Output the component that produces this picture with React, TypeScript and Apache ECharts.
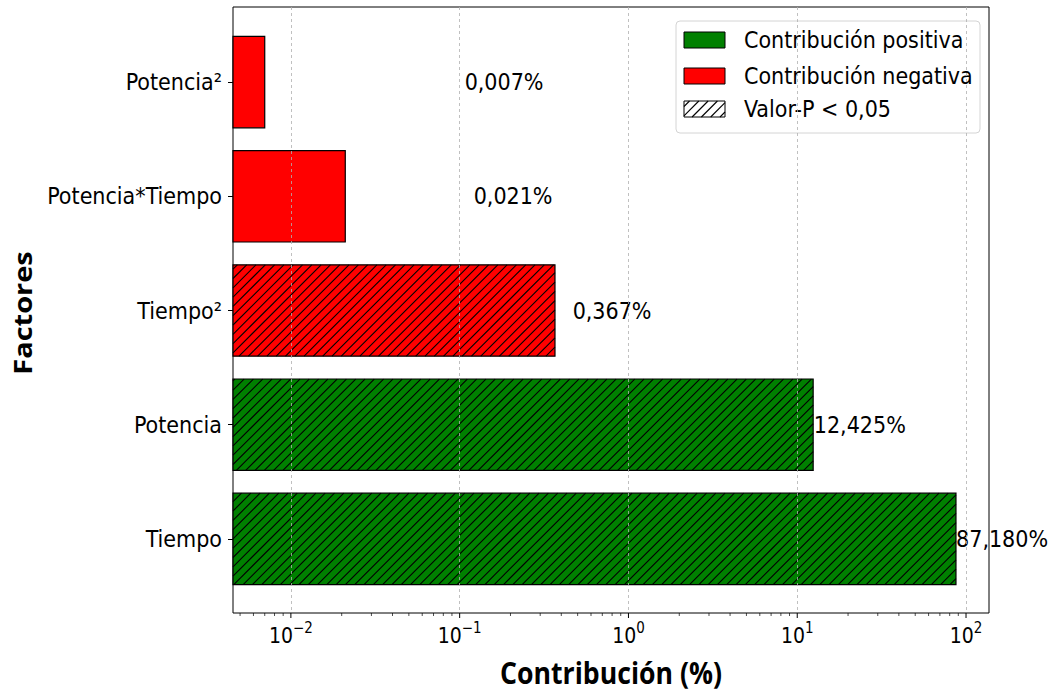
import React, { useEffect, useRef } from 'react';
import * as echarts from 'echarts';

// Factors ordered bottom-to-top on the category axis
const factors = ['Tiempo', 'Potencia', 'Tiempo²', 'Potencia*Tiempo', 'Potencia²'];
// Percentage contribution of each factor
const contributions = [87.18, 12.425, 0.367, 0.021, 0.007];
// Sign of each effect
const effectSign = ['positiva', 'positiva', 'negativa', 'negativa', 'negativa'];
// P-value below 0.05
const significant = [true, true, true, false, false];

// Logarithmic x axis range and ticks
const X_MIN = 0.00454;
const X_MAX = 136.8;
const majorTicks = [0.01, 0.1, 1, 10, 100];
const minorTicks = [
  0.005, 0.006, 0.007, 0.008, 0.009,
  0.02, 0.03, 0.04, 0.05, 0.06, 0.07, 0.08, 0.09,
  0.2, 0.3, 0.4, 0.5, 0.6, 0.7, 0.8, 0.9,
  2, 3, 4, 5, 6, 7, 8, 9,
  20, 30, 40, 50, 60, 70, 80, 90,
];
// value labels sit this far (in data units) right of the bar end
const LABEL_OFFSET = 0.1;

const legendLabels = ['Contribución positiva', 'Contribución negativa', 'Valor-P < 0,05'];

const GREEN = '#008000';
const RED = '#ff0000';
const FONT = "'DejaVu Sans Condensed', 'DejaVu Sans', sans-serif";
const TITLE_FONT = "'Open Sans', 'DejaVu Sans', sans-serif";
const HATCH_STEP = 9.3;

function hatchLines(x0: number, y0: number, x1: number, y1: number, step: number) {
  const lines: any[] = [];
  const start = Math.ceil((x0 + y0) / step) * step;
  for (let c = start; c <= x1 + y1; c += step) {
    const xa = Math.max(x0, c - y1);
    const xb = Math.min(x1, c - y0);
    if (xb > xa) {
      lines.push({
        type: 'line',
        shape: { x1: xa, y1: c - xa, x2: xb, y2: c - xb },
        style: { stroke: '#000', lineWidth: 1.1 },
        silent: true,
      });
    }
  }
  return lines;
}

function formatPct(v: number) {
  return v.toFixed(3).replace('.', ',') + '%';
}

function buildLegend() {
  const box = { x: 676, y: 21, w: 304, h: 112 };
  const handleX = 684;
  const handleW = 41;
  const handleH = 16;
  const rowsY = [32, 68, 101];
  const fills = [GREEN, RED, '#ffffff'];
  const children: any[] = [
    {
      type: 'rect',
      shape: { x: box.x, y: box.y, width: box.w, height: box.h, r: 4 },
      style: { fill: 'rgba(255,255,255,0.8)', stroke: '#d4d4d4', lineWidth: 1 },
    },
  ];
  legendLabels.forEach((label, i) => {
    const y = rowsY[i];
    children.push({
      type: 'rect',
      shape: { x: handleX, y, width: handleW, height: handleH },
      style: { fill: fills[i], stroke: 'none' },
    });
    if (i === 2) {
      children.push(...hatchLines(handleX, y, handleX + handleW, y + handleH, HATCH_STEP));
    }
    children.push({
      type: 'rect',
      shape: { x: handleX, y, width: handleW, height: handleH },
      style: { fill: 'none', stroke: '#000', lineWidth: 1 },
    });
    children.push({
      type: 'text',
      x: 744,
      y: y + handleH / 2,
      style: {
        text: label,
        fontSize: 23,
        fontFamily: FONT,
        fill: '#000',
        align: 'left',
        verticalAlign: 'middle',
      },
    });
  });
  return { type: 'group', z: 20, children };
}

export default function App() {
  const ref = useRef<HTMLDivElement>(null);

  useEffect(() => {
    if (!ref.current) return;
    const chart = echarts.init(ref.current, undefined, { renderer: 'svg' });

    const option: any = {
      animation: false,
      backgroundColor: '#ffffff',
      grid: [
        {
          left: 233, top: 7, width: 756, height: 606,
          show: true, borderColor: '#000', borderWidth: 1, backgroundColor: 'transparent',
        },
        { left: 233, top: 25, width: 756, height: 571 },
      ],
      xAxis: [
        {
          type: 'log', logBase: 10, gridIndex: 0, min: X_MIN, max: X_MAX, z: 5,
          axisLine: { show: false },
          axisTick: { show: false },
          splitLine: {
            show: true, showMinLine: false, showMaxLine: false,
            lineStyle: { color: '#b0b0b0', type: [3, 3], width: 0.8 },
          },
          axisLabel: {
            showMinLabel: false, showMaxLabel: false, margin: 7,
            formatter: (v: number) => {
              const e = Math.round(Math.log10(v));
              return `{b|10}{s|${e < 0 ? '−' + -e : e}}`;
            },
            rich: {
              b: { fontSize: 21, fontFamily: FONT, color: '#000' },
              s: { fontSize: 15, fontFamily: FONT, color: '#000', padding: [0, 0, 16, 0] },
            },
          },
        },
        { type: 'log', logBase: 10, gridIndex: 1, min: X_MIN, max: X_MAX, show: false },
      ],
      yAxis: [
        { type: 'value', gridIndex: 0, min: 0, max: 1, show: false },
        {
          type: 'category', gridIndex: 1, data: factors,
          axisLine: { show: false },
          axisTick: { show: true, alignWithLabel: true, length: 5, lineStyle: { color: '#000', width: 1 } },
          axisLabel: { fontSize: 23, fontFamily: FONT, color: '#000', margin: 11 },
          splitLine: { show: false },
        },
      ],
      series: [
        {
          type: 'custom',
          name: 'contribuciones',
          xAxisIndex: 1,
          yAxisIndex: 1,
          clip: false,
          z: 2,
          encode: { x: 0, y: 1 },
          data: contributions.map((v, i) => [v, i]),
          renderItem: (params: any, api: any) => {
            const i = params.dataIndex;
            const v = api.value(0);
            const end = api.coord([v, i]);
            const start = api.coord([X_MIN, i]);
            const band = api.size([0, 1], [1, i])[1];
            const h = band * 0.8;
            const x0 = start[0];
            const x1 = end[0];
            const y0 = end[1] - h / 2;
            const y1 = end[1] + h / 2;
            const fill = effectSign[i] === 'positiva' ? GREEN : RED;
            const children: any[] = [
              { type: 'rect', shape: { x: x0, y: y0, width: x1 - x0, height: h }, style: { fill, stroke: 'none' } },
            ];
            if (significant[i]) children.push(...hatchLines(x0, y0, x1, y1, HATCH_STEP));
            children.push({
              type: 'rect',
              shape: { x: x0, y: y0, width: x1 - x0, height: h },
              style: { fill: 'none', stroke: '#000', lineWidth: 1.2 },
            });
            const lab = api.coord([v + LABEL_OFFSET, i]);
            children.push({
              type: 'text',
              x: lab[0],
              y: lab[1],
              style: {
                text: formatPct(v),
                fontSize: 23,
                fontFamily: FONT,
                fill: '#000',
                align: 'left',
                verticalAlign: 'middle',
              },
            });
            return { type: 'group', children };
          },
        },
        {
          type: 'custom',
          name: 'ticks',
          xAxisIndex: 0,
          yAxisIndex: 0,
          clip: false,
          z: 6,
          silent: true,
          data: [...majorTicks.map((t) => [t, 1]), ...minorTicks.map((t) => [t, 0])],
          renderItem: (params: any, api: any) => {
            const major = api.value(1) === 1;
            const p = api.coord([api.value(0), 0]);
            return {
              type: 'line',
              shape: { x1: p[0], y1: p[1], x2: p[0], y2: p[1] + (major ? 5 : 3) },
              style: { stroke: '#000', lineWidth: major ? 1 : 0.7 },
            };
          },
        },
      ],
      graphic: [
        buildLegend(),
        {
          type: 'text',
          x: 611,
          y: 672,
          scaleX: 0.86,
          style: {
            text: 'Contribución (%)',
            fontSize: 31,
            fontWeight: 'bold',
            fontFamily: TITLE_FONT,
            fill: '#000',
            align: 'center',
            verticalAlign: 'middle',
          },
        },
        {
          type: 'text',
          x: 22,
          y: 313,
          rotation: Math.PI / 2,
          scaleY: 0.86,
          style: {
            text: 'Factores',
            fontSize: 29,
            fontWeight: 'bold',
            fontFamily: TITLE_FONT,
            fill: '#000',
            align: 'center',
            verticalAlign: 'middle',
          },
        },
      ],
    };

    chart.setOption(option);
    return () => chart.dispose();
  }, []);

  return (
    <div
      ref={ref}
      style={{ position: 'absolute', left: 0, top: 0, width: 1053, height: 692, background: '#fff' }}
    />
  );
}
